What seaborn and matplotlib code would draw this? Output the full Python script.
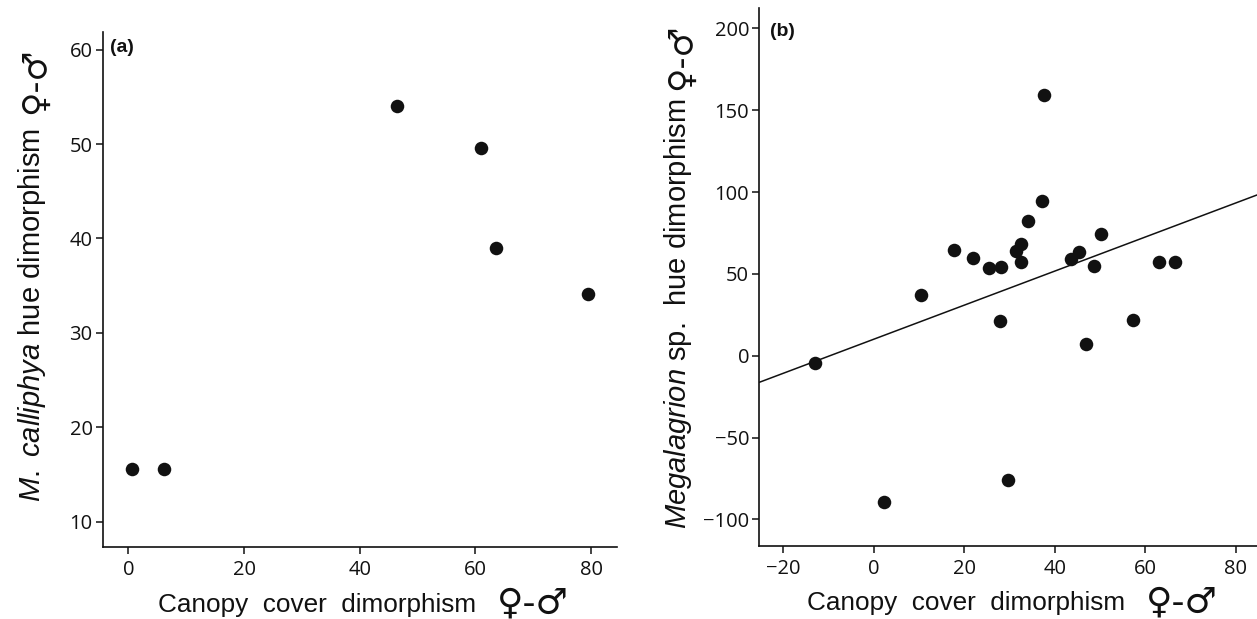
import matplotlib
matplotlib.use("Agg")
import matplotlib.pyplot as plt
import seaborn as sns
import pandas as pd

# panel (a): M. calliphya
canopy_a = [0.7, 6.1, 46.4, 60.9, 63.6, 79.5]
hue_a = [15.6, 15.6, 54.0, 49.6, 39.0, 34.1]

# panel (b): Megalagrion sp.
canopy_b = [-13.0, 2.2, 10.5, 17.6, 21.9, 25.4, 28.0, 27.8, 29.7, 31.4, 32.6, 32.5,
            34.0, 37.2, 37.6, 43.5, 45.4, 46.9, 48.6, 50.2, 57.3, 63.0, 66.5]
hue_b = [-4.4, -89.6, 36.8, 64.3, 59.5, 53.5, 54.0, 21.4, -75.9, 64.1, 68.4, 57.1,
         82.2, 94.8, 159.0, 58.8, 63.6, 7.1, 54.9, 74.5, 22.1, 57.1, 57.1]

xticks_a = [0, 20, 40, 60, 80]
yticks_a = [10, 20, 30, 40, 50, 60]
xticks_b = [-20, 0, 20, 40, 60, 80]
yticks_b = [-100, -50, 0, 50, 100, 150, 200]

df_a = pd.DataFrame({"canopy": canopy_a, "hue": hue_a})
df_b = pd.DataFrame({"canopy": canopy_b, "hue": hue_b})

sns.set_style("ticks")
plt.rcParams["font.family"] = ["Liberation Sans", "DejaVu Sans"]
plt.rcParams["mathtext.fontset"] = "custom"
plt.rcParams["mathtext.rm"] = "Liberation Sans"
plt.rcParams["mathtext.it"] = "Liberation Sans:italic"
plt.rcParams["axes.unicode_minus"] = True

fig = plt.figure(figsize=(12.57, 6.19), dpi=100)
ax_a = fig.add_axes([0.0819, 0.1168, 0.409, 0.832])
ax_b = fig.add_axes([0.6042, 0.1184, 0.3958, 0.868])

ink = "#111111"

sns.scatterplot(data=df_a, x="canopy", y="hue", ax=ax_a, color=ink, s=95, linewidth=0)
ax_b.set_xlim(-25.3, 84.7)
sns.regplot(data=df_b, x="canopy", y="hue", ax=ax_b, scatter=False, ci=None,
            truncate=False, line_kws={"color": ink, "lw": 1.1})
sns.scatterplot(data=df_b, x="canopy", y="hue", ax=ax_b, color=ink, s=95, linewidth=0)

ax_a.set_xlim(-4.4, 84.5)
ax_a.set_ylim(7.35, 61.9)
ax_b.set_xlim(-25.3, 84.7)
ax_b.set_ylim(-116.1, 212.2)

for ax, xt, yt in [(ax_a, xticks_a, yticks_a), (ax_b, xticks_b, yticks_b)]:
    sns.despine(ax=ax)
    ax.set_xticks(xt)
    ax.set_yticks(yt)
    ax.set_xlabel("")
    ax.set_ylabel("")
    for side in ["left", "bottom"]:
        ax.spines[side].set_linewidth(1.2)
        ax.spines[side].set_color(ink)
    ax.tick_params(direction="out", length=5, width=1.1, color=ink,
                   labelsize=14.5, labelcolor=ink)
    ax.tick_params(axis="x", pad=4.5)
    ax.tick_params(axis="y", pad=2.5)
    for lbl in ax.get_xticklabels() + ax.get_yticklabels():
        lbl.set_fontfamily("Open Sans")


def sex_label(ax, main, x, y, vertical, gap=9):
    if vertical:
        t = ax.text(x, y, main, rotation=90, ha="center", va="bottom",
                    transform=ax.transAxes, fontsize=21, color=ink)
        ax.annotate("\u2640-\u2642", xy=(1, 1), xycoords=t, xytext=(2, gap),
                    textcoords="offset points", rotation=90, ha="right", va="bottom",
                    fontsize=24, family="DejaVu Sans", color=ink)
    else:
        t = ax.text(x, y, main, ha="left", va="baseline",
                    transform=ax.transAxes, fontsize=18.8, color=ink, clip_on=False)
        ax.annotate("\u2640-\u2642", xy=(1, 0), xycoords=t, xytext=(15, -3),
                    textcoords="offset points", ha="left", va="bottom",
                    fontsize=26, family="DejaVu Sans", color=ink)


sex_label(ax_a, "Canopy  cover  dimorphism", 0.1076, -0.126, False)
sex_label(ax_b, "Canopy  cover  dimorphism", 0.0949, -0.1197, False)
sex_label(ax_a, r"$\it{M.}$ $\it{calliphya}$ hue dimorphism", -0.138, 0.0868, True, gap=10)
sex_label(ax_b, r"$\it{Megalagrion}$ sp.  hue dimorphism", -0.164, 0.031, True, gap=6)

ax_a.text(0.0136, 0.970, "(a)", transform=ax_a.transAxes, fontsize=14,
          fontweight="bold", ha="left", va="center", color=ink)
ax_b.text(0.021, 0.9565, "(b)", transform=ax_b.transAxes, fontsize=14,
          fontweight="bold", ha="left", va="center", color=ink)

fig.savefig("out.png", dpi=100)
